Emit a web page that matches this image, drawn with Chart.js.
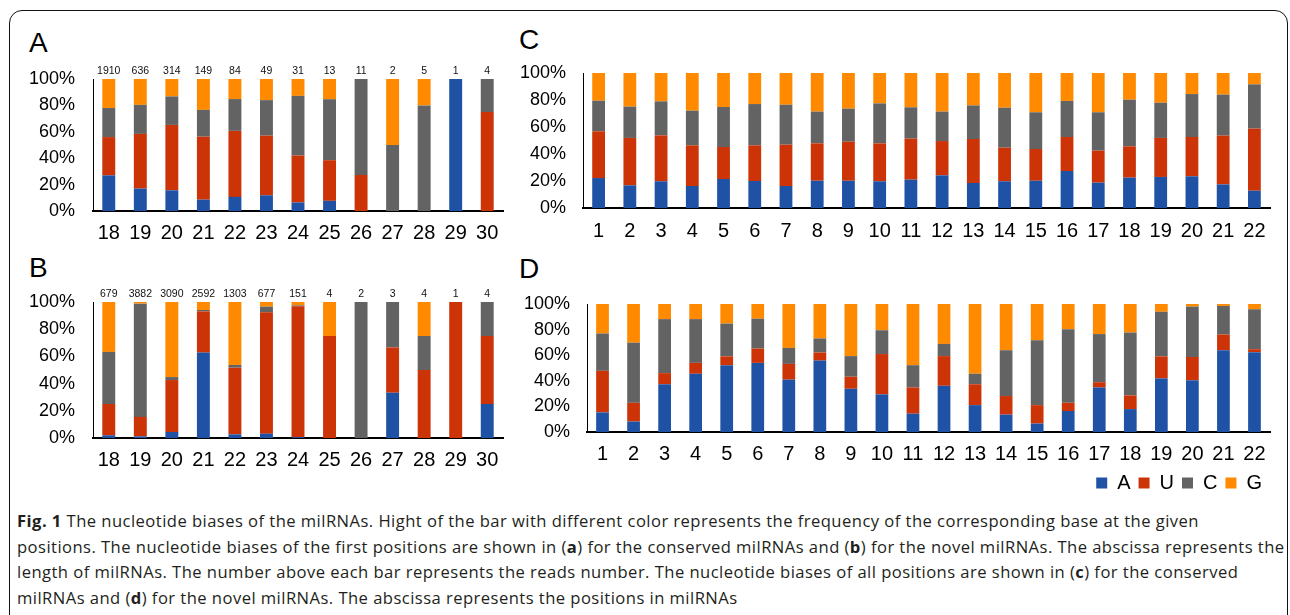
<!DOCTYPE html>
<html lang="en">
<head>
<meta charset="UTF-8">
<title>Nucleotide biases of milRNAs</title>
<script src="https://cdn.jsdelivr.net/npm/chart.js"></script>
<style>
  body { margin:0; background:#fff; width:1290px; height:615px; overflow:hidden; position:relative; font-family:"Liberation Sans", Arial, sans-serif; }
  .frame { position:absolute; left:9px; top:10px; width:1277px; height:660px; border:1.5px solid #111; border-radius:13px; }
  .box { position:absolute; }
  .letter { position:absolute; font-size:28px; line-height:28px; color:#000; }
  .caption { position:absolute; left:17px; top:508px; font-family:"Open Sans", sans-serif; font-size:16.6px; line-height:25.5px; color:#231f20; letter-spacing:0.45px; white-space:nowrap; }
</style>
</head>
<body>
<div class="frame"></div>

<div class="letter" style="left:29px; top:29px;">A</div>
<div class="letter" style="left:29px; top:254px;">B</div>
<div class="letter" style="left:519px; top:26px;">C</div>
<div class="letter" style="left:519px; top:255px;">D</div>

<div class="box" style="left:20px; top:60px; width:490px; height:185px;"><canvas id="chartA"></canvas></div>
<div class="box" style="left:20px; top:280px; width:490px; height:195px;"><canvas id="chartB"></canvas></div>
<div class="box" style="left:510px; top:60px; width:770px; height:185px;"><canvas id="chartC"></canvas></div>
<div class="box" style="left:510px; top:290px; width:770px; height:213px;"><canvas id="chartD"></canvas></div>

<div class="caption">
  <b>Fig. 1</b> The nucleotide biases of the milRNAs. Hight of the bar with different color represents the frequency of the corresponding base at the given<br>
  positions. The nucleotide biases of the first positions are shown in (<b>a</b>) for the conserved milRNAs and (<b>b</b>) for the novel milRNAs. The abscissa represents the<br>
  length of milRNAs. The number above each bar represents the reads number. The nucleotide biases of all positions are shown in (<b>c</b>) for the conserved<br>
  milRNAs and (<b>d</b>) for the novel milRNAs. The abscissa represents the positions in milRNAs
</div>

<script>
  // categories
  const lengths = ['18', '19', '20', '21', '22', '23', '24', '25', '26', '27', '28', '29', '30'];
  const positions = ['1', '2', '3', '4', '5', '6', '7', '8', '9', '10', '11', '12', '13', '14', '15', '16', '17', '18', '19', '20', '21', '22'];
  const bases = ['A', 'U', 'C', 'G'];
  const baseColors = ['#1f52a5', '#cc3307', '#636363', '#ff8a00'];

  // reads number above the bars
  const readsA = [1910, 636, 314, 149, 84, 49, 31, 13, 11, 2, 5, 1, 4];
  const readsB = [679, 3882, 3090, 2592, 1303, 677, 151, 4, 2, 3, 4, 1, 4];

  // A: first position, conserved milRNAs (%)
  const aA = [27, 17, 15.7, 8.6, 10.7, 11.9, 6.5, 7.7, 0, 0, 0, 100, 0];
  const uA = [29, 41.4, 49.5, 47.7, 50, 45.2, 35.5, 30.8, 27.3, 0, 0, 0, 75];
  const cA = [22, 22, 21.6, 20.3, 24.1, 26.9, 45.2, 46.2, 72.7, 50, 80, 0, 25];
  const gA = [22, 19.6, 13.2, 23.4, 15.2, 16, 12.8, 15.3, 0, 50, 20, 0, 0];

  // B: first position, novel milRNAs (%)
  const aB = [2, 1.2, 4.4, 62.8, 2.7, 3.2, 0.7, 0, 0, 33.3, 0, 0, 25];
  const uB = [23, 14.3, 38.2, 30.3, 49, 89.2, 96.1, 75, 0, 33.3, 50, 100, 50];
  const cB = [38.3, 83.3, 2.2, 1, 2, 4.2, 0.7, 0, 100, 33.4, 25, 0, 25];
  const gB = [36.7, 1.2, 55.2, 5.9, 46.3, 3.4, 2.5, 25, 0, 0, 25, 0, 0];

  // C: all positions, conserved milRNAs (%)
  const aC = [22.2, 16.8, 19.8, 16.3, 21.5, 20, 16.3, 20.2, 20.2, 19.8, 21, 24.2, 18.5, 19.8, 20.2, 27.4, 18.8, 22.5, 23, 23.5, 17.5, 12.8];
  const uC = [34.6, 35.1, 34, 30.1, 23.7, 26.4, 30.6, 27.7, 28.9, 28.1, 30.4, 25.4, 32.6, 24.9, 23.5, 25.2, 23.7, 23.2, 28.9, 29.1, 36.1, 46];
  const cC = [22.7, 23.2, 25.2, 25.7, 29.6, 30.6, 29.6, 23.5, 24.5, 29.6, 23.2, 21.8, 24.9, 29.6, 27.2, 26.7, 28.4, 34.5, 26.1, 31.8, 30.4, 32.8];
  const gC = [20.5, 24.9, 21, 27.9, 25.2, 23, 23.5, 28.6, 26.4, 22.5, 25.4, 28.6, 24, 25.7, 29.1, 20.7, 29.1, 19.8, 22, 15.6, 16, 8.4];

  // D: all positions, novel milRNAs (%)
  const aD = [15.3, 8.2, 37.3, 45.5, 52.2, 54, 40.9, 55.8, 33.8, 29.4, 14.3, 36.1, 21, 13.6, 6.6, 16.4, 34.8, 17.9, 41.9, 40.4, 63.9, 62.4];
  const uD = [32.5, 14.6, 8.7, 8.5, 6.9, 11.2, 12.3, 6.3, 9.4, 31.5, 20.5, 23.2, 16.3, 14.5, 14.4, 6.4, 4.1, 10.7, 17.2, 18.2, 12.3, 2.3];
  const cD = [29.2, 47, 42.2, 34.2, 25.6, 23.3, 12.5, 11, 16.1, 18.6, 17.4, 9.5, 8.2, 35.8, 50.6, 57.5, 37.6, 49.1, 34.8, 39.4, 22.3, 31.2];
  const gD = [23, 30.2, 11.8, 11.8, 15.3, 11.5, 34.3, 26.9, 40.7, 20.5, 47.8, 31.2, 54.5, 36.1, 28.4, 19.7, 23.5, 22.3, 6.1, 2, 1.5, 4.1];

  // writes the reads number over each bar
  const readsLabels = {
    id: 'readsLabels',
    afterDatasetsDraw(chart, args, opts) {
      if (!opts.values) return;
      const ctx = chart.ctx;
      const meta = chart.getDatasetMeta(0);
      ctx.save();
      ctx.font = '10.5px "Liberation Sans", Arial, sans-serif';
      ctx.fillStyle = '#111';
      ctx.textAlign = 'center';
      ctx.textBaseline = 'bottom';
      meta.data.forEach((bar, i) => {
        ctx.fillText(String(opts.values[i]), bar.x, chart.chartArea.top - 3);
      });
      ctx.restore();
    }
  };

  function makeChart(id, labels, series, cfg) {
    const datasets = series.map((vals, i) => ({
      label: bases[i],
      data: vals,
      backgroundColor: baseColors[i],
      borderWidth: 0,
      barPercentage: 0.41,
      categoryPercentage: 1
    }));

    return new Chart(document.getElementById(id), {
      type: 'bar',
      data: { labels, datasets },
      plugins: [readsLabels],
      options: {
        responsive: true,
        maintainAspectRatio: false,
        animation: false,
        layout: { padding: { top: cfg.top, right: cfg.right, left: 0, bottom: 0 } },
        plugins: {
          legend: {
            display: !!cfg.legend,
            position: 'bottom',
            align: 'end',
            labels: { boxWidth: 11, boxHeight: 11, padding: 8, color: '#000', font: { size: 20, family: '"Liberation Sans", Arial, sans-serif' } }
          },
          tooltip: { enabled: false },
          readsLabels: { values: cfg.reads || null }
        },
        scales: {
          x: {
            stacked: true,
            grid: { display: false, drawTicks: false },
            border: { display: true, color: '#000', width: 2 },
            ticks: { color: '#000', padding: cfg.xPad, font: { size: 20, family: '"Liberation Sans", Arial, sans-serif' } },
            afterFit: s => { s.height = cfg.xh; }
          },
          y: {
            stacked: true,
            min: 0,
            max: 100,
            grid: { display: false, drawTicks: false },
            border: { display: true, color: '#000', width: 1 },
            ticks: {
              stepSize: 20,
              autoSkip: false,
              color: '#000',
              padding: cfg.yPad,
              font: { size: 18, family: '"Liberation Sans", Arial, sans-serif' },
              callback: v => v + '%'
            },
            afterFit: s => {
              s.width = cfg.yw;
              // the layout padding already leaves room for the end labels
              s.paddingTop = 0;
              s.paddingBottom = 0;
            }
          }
        }
      }
    });
  }

  makeChart('chartA', lengths, [aA, uA, cA, gA], { top: 19, right: 7, yw: 73, xh: 34, xPad: 10, yPad: 18, reads: readsA });
  makeChart('chartB', lengths, [aB, uB, cB, gB], { top: 22, right: 7, yw: 73, xh: 37, xPad: 10, yPad: 18, reads: readsB });
  makeChart('chartC', positions, [aC, uC, cC, gC], { top: 13, right: 10, yw: 73, xh: 37, xPad: 11, yPad: 17 });
  makeChart('chartD', positions, [aD, uD, cD, gD], { top: 14, right: 10, yw: 77, xh: 33, xPad: 10, yPad: 17, legend: true });
</script>
</body>
</html>
